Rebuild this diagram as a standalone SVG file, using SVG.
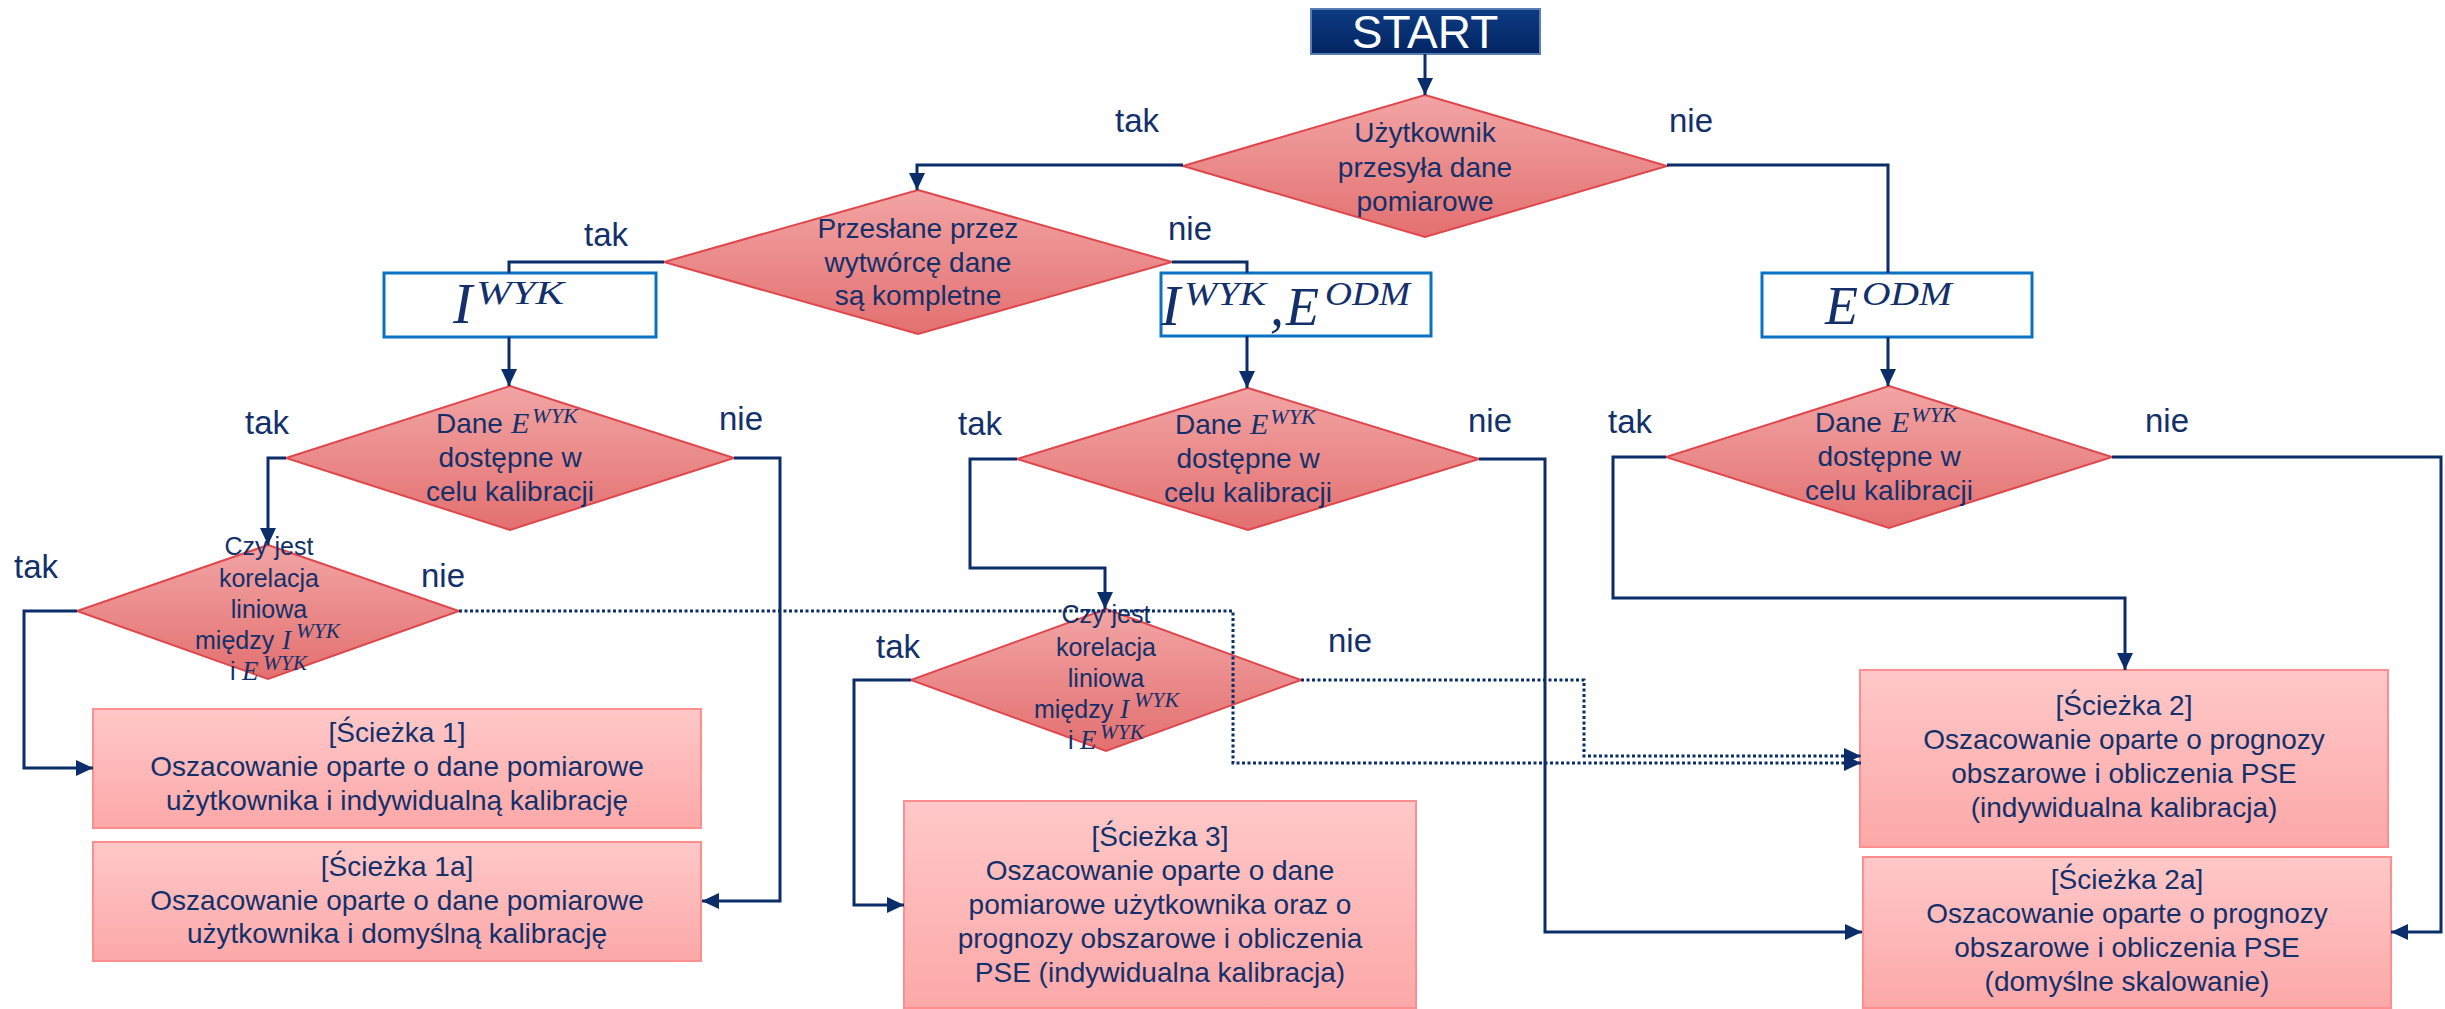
<svg xmlns="http://www.w3.org/2000/svg" width="2445" height="1009" viewBox="0 0 2445 1009">
<defs>
<linearGradient id="gD" x1="0" y1="0" x2="0" y2="1"><stop offset="0" stop-color="#f2a4a4"/><stop offset="1" stop-color="#e37070"/></linearGradient>
<linearGradient id="gR" x1="0" y1="0" x2="0" y2="1"><stop offset="0" stop-color="#ffc8c8"/><stop offset="1" stop-color="#fca8a8"/></linearGradient>
<linearGradient id="gS" x1="0" y1="0" x2="0" y2="1"><stop offset="0" stop-color="#0d3b82"/><stop offset="1" stop-color="#022563"/></linearGradient>
<marker id="ah" markerUnits="userSpaceOnUse" markerWidth="18" markerHeight="16" refX="17" refY="8" orient="auto" viewBox="0 0 18 16"><path d="M0,0 L17,8 L0,16 z" fill="#0b2d69"/></marker>
<style>
text{font-family:"Liberation Sans",Arial,sans-serif;fill:#13306a}
.lbl{font-size:33px}
.t28{font-size:28px;text-anchor:middle}
.t28s{font-size:28px}
.t25{font-size:25px;text-anchor:middle}
.t25s{font-size:25px}
.mi{font-family:"Liberation Serif","Times New Roman",serif;font-style:italic}
.dia{fill:url(#gD);stroke:#e0474c;stroke-width:2}
.res{fill:url(#gR);stroke:#ff8e8e;stroke-width:2}
.mbox{fill:#ffffff;stroke:#0a72c2;stroke-width:3}
.con{fill:none;stroke:#0b2d69;stroke-width:3}
.dot{fill:none;stroke:#0b2d69;stroke-width:3;stroke-dasharray:3 2.5}
</style>
</defs>
<rect width="2445" height="1009" fill="#ffffff"/>

<g id="start">
<rect x="1311" y="9" width="229" height="45" fill="url(#gS)" stroke="#5a7db3" stroke-width="2"/>
<text x="1425" y="48" font-size="46" text-anchor="middle" style="fill:#ffffff">START</text>
</g>

<g id="d1">
<polygon class="dia" points="1425,95 1667,166 1425,237 1183,166"/>
<text class="t28" x="1425" y="142">Użytkownik</text>
<text class="t28" x="1425" y="177">przesyła dane</text>
<text class="t28" x="1425" y="211">pomiarowe</text>
</g>

<g id="d2">
<polygon class="dia" points="918,190 1172,262 918,334 664,262"/>
<text class="t28" x="918" y="238">Przesłane przez</text>
<text class="t28" x="918" y="272">wytwórcę dane</text>
<text class="t28" x="918" y="305">są kompletne</text>
</g>

<g id="box-iwyk">
<rect class="mbox" x="384" y="273" width="272" height="64"/>
<text class="mi" x="453" y="323" font-size="58">I</text>
<text class="mi" x="476" y="304" font-size="34" textLength="88" lengthAdjust="spacingAndGlyphs">WYK</text>
</g>

<g id="box-iwyk-eodm">
<rect class="mbox" x="1161" y="273" width="270" height="63"/>
<text class="mi" x="1161" y="325" font-size="58">I</text>
<text class="mi" x="1184" y="305" font-size="34" textLength="82" lengthAdjust="spacingAndGlyphs">WYK</text>
<text class="mi" x="1270" y="325" font-size="56">,</text>
<text class="mi" x="1286" y="325" font-size="54">E</text>
<text class="mi" x="1325" y="305" font-size="34" textLength="85" lengthAdjust="spacingAndGlyphs">ODM</text>
</g>

<g id="box-eodm">
<rect class="mbox" x="1762" y="273" width="270" height="64"/>
<text class="mi" x="1825" y="324" font-size="54">E</text>
<text class="mi" x="1862" y="305" font-size="34" textLength="90" lengthAdjust="spacingAndGlyphs">ODM</text>
</g>

<g id="d3">
<polygon class="dia" points="510,386 734,458 510,530 286,458"/>
<text class="t28s" x="436" y="433">Dane</text>
<text class="mi" x="511" y="433" font-size="30">E</text>
<text class="mi" x="532" y="423" font-size="22" textLength="46" lengthAdjust="spacingAndGlyphs">WYK</text>
<text class="t28" x="510" y="467">dostępne w</text>
<text class="t28" x="510" y="501">celu kalibracji</text>
</g>

<g id="d5">
<polygon class="dia" points="1248,388 1479,459 1248,530 1017,459"/>
<text class="t28s" x="1175" y="434">Dane</text>
<text class="mi" x="1250" y="434" font-size="30">E</text>
<text class="mi" x="1270" y="424" font-size="22" textLength="46" lengthAdjust="spacingAndGlyphs">WYK</text>
<text class="t28" x="1248" y="468">dostępne w</text>
<text class="t28" x="1248" y="502">celu kalibracji</text>
</g>

<g id="d7">
<polygon class="dia" points="1889,386 2112,457 1889,528 1666,457"/>
<text class="t28s" x="1815" y="432">Dane</text>
<text class="mi" x="1891" y="432" font-size="30">E</text>
<text class="mi" x="1911" y="422" font-size="22" textLength="46" lengthAdjust="spacingAndGlyphs">WYK</text>
<text class="t28" x="1889" y="466">dostępne w</text>
<text class="t28" x="1889" y="500">celu kalibracji</text>
</g>

<g id="d4">
<polygon class="dia" points="268,545 459,611 268,679 77,611"/>
<text class="t25" x="269" y="555">Czy jest</text>
<text class="t25" x="269" y="587">korelacja</text>
<text class="t25" x="269" y="618">liniowa</text>
<text class="t25s" x="195" y="649">między</text>
<text class="mi" x="282" y="649" font-size="27">I</text>
<text class="mi" x="296" y="638" font-size="21" textLength="44" lengthAdjust="spacingAndGlyphs">WYK</text>
<text class="t25s" x="230" y="680">i</text>
<text class="mi" x="242" y="680" font-size="27">E</text>
<text class="mi" x="263" y="670" font-size="21" textLength="44" lengthAdjust="spacingAndGlyphs">WYK</text>
</g>

<g id="d6">
<polygon class="dia" points="1106,609 1301,680 1106,751 911,680"/>
<text class="t25" x="1106" y="623">Czy jest</text>
<text class="t25" x="1106" y="656">korelacja</text>
<text class="t25" x="1106" y="687">liniowa</text>
<text class="t25s" x="1034" y="718">między</text>
<text class="mi" x="1120" y="718" font-size="27">I</text>
<text class="mi" x="1134" y="707" font-size="21" textLength="45" lengthAdjust="spacingAndGlyphs">WYK</text>
<text class="t25s" x="1068" y="749">i</text>
<text class="mi" x="1080" y="749" font-size="27">E</text>
<text class="mi" x="1100" y="739" font-size="21" textLength="44" lengthAdjust="spacingAndGlyphs">WYK</text>
</g>

<g id="r1">
<rect class="res" x="93" y="709" width="608" height="119"/>
<text class="t28" x="397" y="742">[Ścieżka 1]</text>
<text class="t28" x="397" y="776">Oszacowanie oparte o dane pomiarowe</text>
<text class="t28" x="397" y="810">użytkownika i indywidualną kalibrację</text>
</g>

<g id="r1a">
<rect class="res" x="93" y="842" width="608" height="119"/>
<text class="t28" x="397" y="876">[Ścieżka 1a]</text>
<text class="t28" x="397" y="910">Oszacowanie oparte o dane pomiarowe</text>
<text class="t28" x="397" y="943">użytkownika i domyślną kalibrację</text>
</g>

<g id="r3">
<rect class="res" x="904" y="801" width="512" height="207"/>
<text class="t28" x="1160" y="846">[Ścieżka 3]</text>
<text class="t28" x="1160" y="880">Oszacowanie oparte o dane</text>
<text class="t28" x="1160" y="914">pomiarowe użytkownika oraz o</text>
<text class="t28" x="1160" y="948">prognozy obszarowe i obliczenia</text>
<text class="t28" x="1160" y="982">PSE (indywidualna kalibracja)</text>
</g>

<g id="r2">
<rect class="res" x="1860" y="670" width="528" height="177"/>
<text class="t28" x="2124" y="715">[Ścieżka 2]</text>
<text class="t28" x="2124" y="749">Oszacowanie oparte o prognozy</text>
<text class="t28" x="2124" y="783">obszarowe i obliczenia PSE</text>
<text class="t28" x="2124" y="817">(indywidualna kalibracja)</text>
</g>

<g id="r2a">
<rect class="res" x="1863" y="857" width="528" height="151"/>
<text class="t28" x="2127" y="889">[Ścieżka 2a]</text>
<text class="t28" x="2127" y="923">Oszacowanie oparte o prognozy</text>
<text class="t28" x="2127" y="957">obszarowe i obliczenia PSE</text>
<text class="t28" x="2127" y="991">(domyślne skalowanie)</text>
</g>

<g id="connectors">
<path class="con" d="M1425,54 V95" marker-end="url(#ah)"/>
<path class="con" d="M1183,165 H917 V190" marker-end="url(#ah)"/>
<path class="con" d="M1667,165 H1888 V273"/>
<path class="con" d="M664,262 H509 V273"/>
<path class="con" d="M1172,262 H1247 V273"/>
<path class="con" d="M509,337 V386" marker-end="url(#ah)"/>
<path class="con" d="M1247,336 V388" marker-end="url(#ah)"/>
<path class="con" d="M1888,337 V386" marker-end="url(#ah)"/>
<path class="con" d="M286,458 H268 V545" marker-end="url(#ah)"/>
<path class="con" d="M734,458 H780 V901 H702" marker-end="url(#ah)"/>
<path class="con" d="M77,611 H24 V768 H93" marker-end="url(#ah)"/>
<path class="con" d="M1017,459 H970 V568 H1105 V609" marker-end="url(#ah)"/>
<path class="con" d="M1479,459 H1545 V932 H1862" marker-end="url(#ah)"/>
<path class="con" d="M911,680 H854 V905 H904" marker-end="url(#ah)"/>
<path class="con" d="M1666,457 H1613 V598 H2125 V670" marker-end="url(#ah)"/>
<path class="con" d="M2112,457 H2441 V932 H2391" marker-end="url(#ah)"/>
<path class="dot" d="M459,611 H1233 V763 H1861" marker-end="url(#ah)"/>
<path class="dot" d="M1301,680 H1584 V756 H1861" marker-end="url(#ah)"/>
<text class="lbl" x="1115" y="132">tak</text>
<text class="lbl" x="1669" y="132">nie</text>
<text class="lbl" x="584" y="246">tak</text>
<text class="lbl" x="1168" y="240">nie</text>
<text class="lbl" x="245" y="434">tak</text>
<text class="lbl" x="719" y="430">nie</text>
<text class="lbl" x="14" y="578">tak</text>
<text class="lbl" x="421" y="587">nie</text>
<text class="lbl" x="958" y="435">tak</text>
<text class="lbl" x="1468" y="432">nie</text>
<text class="lbl" x="876" y="658">tak</text>
<text class="lbl" x="1328" y="652">nie</text>
<text class="lbl" x="1608" y="433">tak</text>
<text class="lbl" x="2145" y="432">nie</text>
</g>
</svg>
